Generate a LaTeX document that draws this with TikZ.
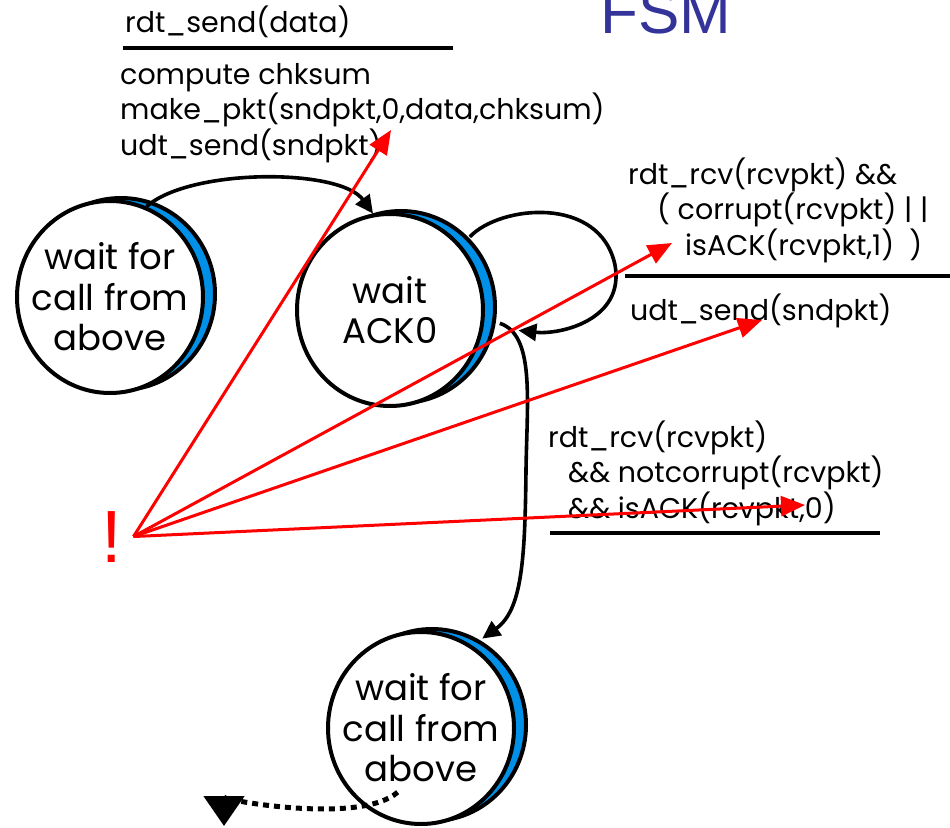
\documentclass[tikz,border=0pt]{standalone}
\usepackage{fontspec}
\setmainfont{Poppins}
\newfontfamily\titlefont{Liberation Sans}
\usetikzlibrary{positioning, calc, shapes.geometric, arrows.meta, backgrounds}
\definecolor{fsmblue}{RGB}{51,51,153}
\definecolor{crescentblue}{RGB}{0,144,232}
\definecolor{markred}{RGB}{255,0,0}

\begin{document}
\begin{tikzpicture}[
        x=1pt, y=-1pt,
        state/.style={ellipse, draw=black, line width=4pt, fill=white,
                      minimum width=186pt, minimum height=192pt, inner sep=-14pt,
                      align=center, font=\fontsize{35.5}{40.5}\selectfont},
        crescent/.style={draw=black, line width=4pt, fill=crescentblue},
        guard/.style={anchor=base west, align=left, inner sep=0pt,
                      font=\fontsize{28.5}{33.5}\selectfont},
        rule/.style={line width=4pt},
        trans/.style={-{Triangle[length=18pt, width=17pt]}, line width=3.6pt},
        dottrans/.style={-{Triangle[length=30pt, width=40pt]}, line width=5pt,
                         dash pattern=on 6pt off 5pt},
        hint/.style={-{Triangle[length=24pt, width=20pt]}, line width=3pt, markred},
    ]
    \useasboundingbox (0,0) rectangle (950,827);

    % ---- Title ----
    \node[font=\titlefont\fontsize{62}{62}\selectfont, text=fsmblue,
          anchor=base west, inner sep=0pt] (title) at (600,33) {FSM};

    % ---- States ----
    \node[state] (wait1) at (110,297) {wait for\\call from\\above};
    \node[state] (ack0) at (390,310) {wait\\ACK0};
    \node[state] (wait2) at (421,728) {wait for\\call from\\above};

    % ---- Blue crescents behind the states ----
    \begin{scope}[on background layer]
        \foreach \s in {wait1, ack0, wait2}
            \draw[crescent] ($(\s.center)+(11,-3)$) ellipse [x radius=94pt, y radius=96pt];
    \end{scope}

    % ---- Guards and actions (base = last line) ----
    \node[guard] (senddata) at (125,32) {rdt\_send(data)};
    \draw[rule] (123,48) -- (453,48);
    \node[guard] (sendact) at (120,155)
        {compute chksum\\make\_pkt(sndpkt,0,data,chksum)\\udt\_send(sndpkt)};

    \node[guard] (badack) at (628,255)
        {rdt\_rcv(rcvpkt) \&\&\\\hspace*{29pt}( corrupt(rcvpkt) | |\\\hspace*{57pt}isACK(rcvpkt,1)\ \ )};
    \draw[rule] (625,276) -- (950,276);
    \node[guard] (resend) at (630,320) {udt\_send(sndpkt)};

    \node[guard] (goodack) at (548,518)
        {rdt\_rcv(rcvpkt)\\\hspace*{20pt}\&\& notcorrupt(rcvpkt)\\\hspace*{20pt}\&\& isACK(rcvpkt,0)};
    \draw[rule] (550,533) -- (880,533);

    % ---- Transitions ----
    \draw[trans] (wait1.68) .. controls (190,168) and (340,168) .. (ack0.100);
    \draw[trans, shorten <=12pt, shorten >=35pt] (ack0.42)
        .. controls (500,205) and (600,195) .. (615,265)
        .. controls (625,320) and (560,335) .. (ack0.-10);
    \draw[trans, shorten <=16pt, shorten >=12pt] (ack0.-5)
        .. controls (535,335) and (527,400) .. (526,470)
        .. controls (525,560) and (522,610) .. (wait2.58);

    \coordinate (leave) at ($(wait2.center)!0.7!(wait2.250)$);
    \coordinate (exit) at (224,826);
    \draw[dottrans] (leave) .. controls (360,825) and (224,800) .. (exit);

    % ---- Red pointers ----
    \node[text=markred, font=\titlefont\fontsize{74}{74}\selectfont,
          inner sep=0pt, anchor=base] (bang) at (112,562) {!};
    \coordinate[right=11pt of bang] (src);
    \coordinate (tipsend) at (391,130);
    \coordinate (tipack1) at (672,243);
    \coordinate (tipresend) at (762,320);
    \coordinate (tipack0) at (805,505);
    \foreach \t in {tipsend, tipack1, tipresend, tipack0}
        \draw[hint] (src) -- (\t);
\end{tikzpicture}
\end{document}
